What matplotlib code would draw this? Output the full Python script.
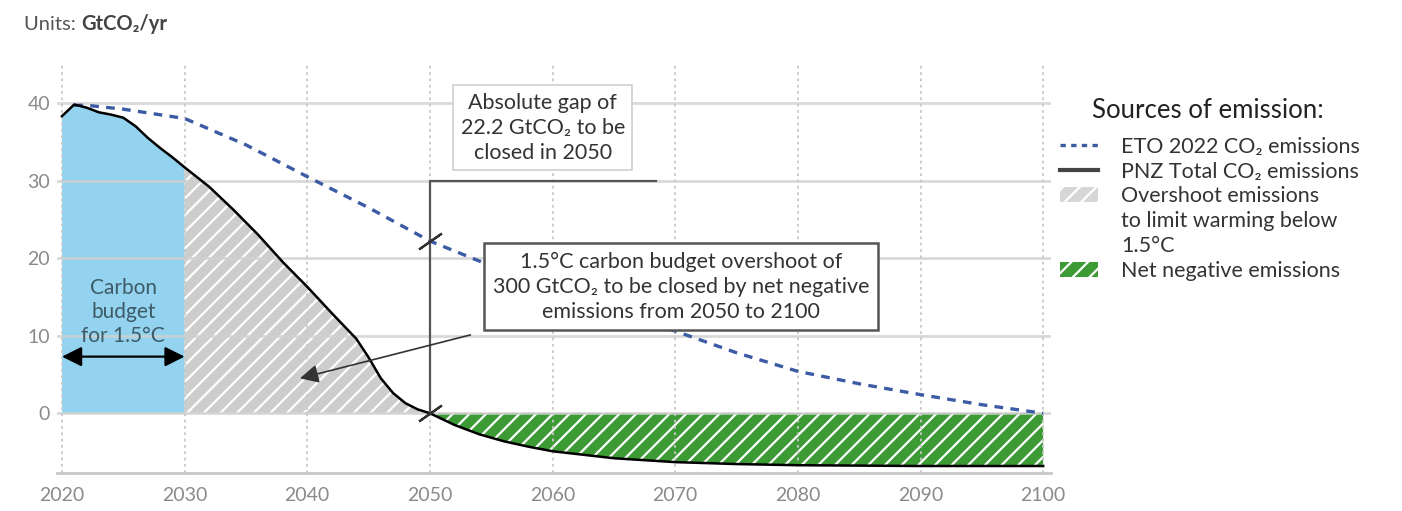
import numpy as np
import matplotlib

matplotlib.use("Agg")
import matplotlib.pyplot as plt
from matplotlib.lines import Line2D
from matplotlib.patches import Patch

plt.rcParams["font.family"] = ["Lato", "DejaVu Sans"]
plt.rcParams["hatch.linewidth"] = 1.6

# PNZ total CO2 emissions (GtCO2/yr)
pnz_years = np.array([2020, 2021, 2022, 2023, 2024, 2025, 2026, 2027, 2028, 2029, 2030,
                      2032, 2034, 2036, 2038, 2040, 2042, 2044, 2045, 2046, 2047, 2048,
                      2049, 2050, 2052, 2054, 2056, 2058, 2060, 2065, 2070, 2075, 2080,
                      2090, 2100])
pnz_vals = np.array([38.3, 39.8, 39.4, 38.8, 38.5, 38.1, 37.0, 35.5, 34.2, 33.0, 31.7,
                     29.2, 26.2, 23.0, 19.5, 16.3, 12.9, 9.6, 7.2, 4.5, 2.6, 1.3,
                     0.5, 0.0, -1.5, -2.7, -3.6, -4.3, -4.9, -5.8, -6.3, -6.55, -6.7,
                     -6.8, -6.8])

# ETO 2022 CO2 emissions
eto_years = np.array([2021, 2022, 2025, 2030, 2035, 2040, 2045, 2050, 2055, 2060, 2065,
                      2070, 2075, 2080, 2085, 2090, 2095, 2100])
eto_vals = np.array([39.7, 39.7, 39.2, 38.0, 34.6, 30.5, 26.5, 22.2, 19.0, 16.0, 13.2,
                     10.6, 7.8, 5.4, 3.8, 2.4, 1.1, 0.0])

budget_end = 2030
netzero_year = 2050
gap_2050 = 22.2

x_ticks = [2020, 2030, 2040, 2050, 2060, 2070, 2080, 2090, 2100]
y_ticks = [0, 10, 20, 30, 40]

BLUE_FILL = "#93d3ef"
GREY_FILL = "#cdcdcd"
GREEN_FILL = "#3d9b35"
ETO_BLUE = "#3b5ba5"
TICK_GREY = "#8a8a8a"

fig = plt.figure(figsize=(14.02, 5.11), dpi=100)
ax = fig.add_axes([0.0407, 0.0744, 0.7086, 0.800])

# areas under the PNZ curve
zero = np.zeros_like(pnz_vals)
ax.fill_between(pnz_years, pnz_vals, zero, where=pnz_years <= budget_end,
                facecolor=BLUE_FILL, linewidth=0, zorder=1)
ax.fill_between(pnz_years, pnz_vals, zero,
                where=(pnz_years >= budget_end) & (pnz_years <= netzero_year),
                facecolor=GREY_FILL, edgecolor="white", hatch="//", linewidth=0, zorder=1)
ax.fill_between(pnz_years, pnz_vals, zero, where=pnz_years >= netzero_year,
                facecolor=GREEN_FILL, edgecolor="white", hatch="//", linewidth=0, zorder=1)

ax.plot(eto_years, eto_vals, color=ETO_BLUE, lw=2.4, dashes=(2.6, 2.2), zorder=3)
ax.plot(pnz_years, pnz_vals, color="black", lw=1.8, zorder=3)

# grid
for y in y_ticks:
    ax.axhline(y, color="#d0d0d0", lw=2, alpha=0.8, zorder=2)
for x in x_ticks:
    ax.axvline(x, color="#c8c8c8", lw=1.3, ls=(0, (1.5, 2)), zorder=2)

ax.set_xlim(2019.6, 2100.6)
ax.set_ylim(-7.7, 45)
ax.set_xticks(x_ticks)
ax.set_yticks(y_ticks)
ax.tick_params(axis="both", length=0, labelsize=14, labelcolor=TICK_GREY)
ax.tick_params(axis="x", pad=10)
ax.tick_params(axis="y", pad=5)
for side in ["left", "right", "top"]:
    ax.spines[side].set_visible(False)
ax.spines["bottom"].set_color("#c8c8c8")
ax.spines["bottom"].set_linewidth(2)

# carbon budget double arrow and label
ax.annotate("", xy=(2020, 7.3), xytext=(budget_end, 7.3),
            arrowprops=dict(arrowstyle="<|-|>", color="black", lw=1.6,
                            mutation_scale=30, shrinkA=0, shrinkB=0), zorder=4)
ax.text(2025, 13.1, "Carbon\nbudget\nfor 1.5°C", ha="center", va="center",
        fontsize=15, color="#3d5a66", linespacing=1.25, zorder=4)

# gap bracket at 2050
ax.plot([netzero_year, netzero_year, 2068.4], [0, 30, 30], color="#555555", lw=1.6, zorder=4)
ax.plot([netzero_year], [gap_2050], marker=(2, 2, -55), markersize=20,
        markeredgewidth=1.6, color="#333333", zorder=5)
ax.plot([netzero_year], [0], marker=(2, 2, -55), markersize=20,
        markeredgewidth=1.6, color="#333333", zorder=5)

ax.text(2059.2, 36.8, "Absolute gap of\n22.2 GtCO₂ to be\nclosed in 2050",
        ha="center", va="center", fontsize=15.5, color="#333333", linespacing=1.3,
        bbox=dict(boxstyle="square,pad=0.35", facecolor="white", edgecolor="#d0d0d0", lw=1.2),
        zorder=6)

ax.text(2070.5, 16.3,
        "1.5°C carbon budget overshoot of\n300 GtCO₂ to be closed by net negative\n"
        "emissions from 2050 to 2100",
        ha="center", va="center", fontsize=15.5, color="#333333", linespacing=1.3,
        bbox=dict(boxstyle="square,pad=0.4", facecolor="white", edgecolor="#555555", lw=1.8),
        zorder=6)
ax.annotate("", xy=(2039.4, 4.5), xytext=(2053.3, 10.1),
            arrowprops=dict(arrowstyle="-|>", color="#333333", lw=1.2,
                            mutation_scale=28, shrinkA=0, shrinkB=0), zorder=5)

# units
units = fig.text(24 / 1402, 1 - 24 / 511, "Units: ", fontsize=14.5, color="#555555",
                 ha="left", va="center")
ax.annotate("GtCO₂/yr", xy=(1, 0.5), xycoords=units, va="center", ha="left",
            fontsize=14.5, color="#444444", fontweight="bold", annotation_clip=False)

# legend
fig.text(1092 / 1402, 1 - 110 / 511, "Sources of emission:", fontsize=18.5,
         color="#222222", ha="left", va="center")
blank = Patch(facecolor="none", edgecolor="none")
handles = [
    Line2D([], [], color=ETO_BLUE, lw=2.4, dashes=(1.6, 1.6)),
    Line2D([], [], color="#444444", lw=3),
    Patch(facecolor="#d6d6d6", edgecolor="white", hatch="//", lw=0),
    blank,
    blank,
    Patch(facecolor=GREEN_FILL, edgecolor="white", hatch="//", lw=0),
]
labels = ["ETO 2022 CO₂ emissions", "PNZ Total CO₂ emissions", "Overshoot emissions",
          "to limit warming below", "1.5°C", "Net negative emissions"]
leg = fig.legend(handles, labels, loc="upper left", bbox_to_anchor=(1060 / 1402, 1 - 137 / 511),
                 frameon=False, fontsize=15.5, handlelength=1.75, handleheight=0.7,
                 handletextpad=1.1, labelspacing=0.22, borderpad=0, borderaxespad=0)
for t in leg.get_texts():
    t.set_color("#333333")

fig.savefig("out.png", dpi=100)
